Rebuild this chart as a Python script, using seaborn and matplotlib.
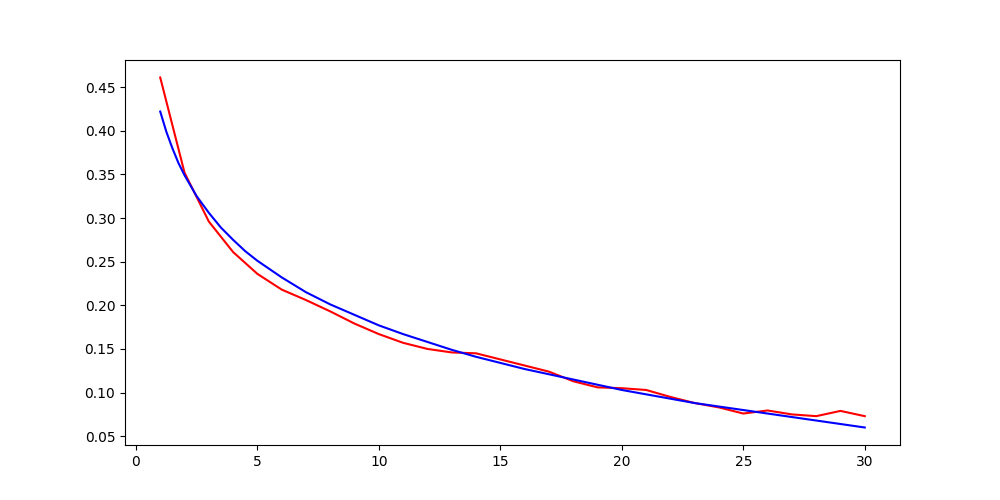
import matplotlib
matplotlib.use("Agg")
import matplotlib.pyplot as plt
import seaborn as sns
import pandas as pd

x_red = list(range(1, 31))
y_red = [0.461, 0.352, 0.296, 0.261, 0.236, 0.218, 0.206, 0.193, 0.179, 0.167,
         0.157, 0.150, 0.146, 0.145, 0.138, 0.131, 0.124, 0.113, 0.106, 0.105,
         0.103, 0.095, 0.088, 0.083, 0.076, 0.0795, 0.075, 0.073, 0.079, 0.073]

x_blue = [1, 1.25, 1.5, 1.75, 2, 2.5, 3, 3.5, 4, 4.5, 5, 6, 7, 8, 9, 10, 11, 12, 13, 14, 15,
          16, 17, 18, 19, 20, 21, 22, 23, 24, 25, 26, 27, 28, 29, 30]
y_blue = [0.422, 0.399, 0.380, 0.363, 0.349, 0.325, 0.306, 0.289, 0.275, 0.262, 0.251,
          0.232, 0.215, 0.201, 0.189, 0.177, 0.167, 0.158, 0.149, 0.141, 0.134,
          0.127, 0.121, 0.115, 0.109, 0.103, 0.098, 0.093, 0.088, 0.084, 0.080,
          0.076, 0.072, 0.068, 0.064, 0.060]

red_df = pd.DataFrame({"x": x_red, "y": y_red})
blue_df = pd.DataFrame({"x": x_blue, "y": y_blue})

fig, ax = plt.subplots(figsize=(10, 5), dpi=100)
sns.lineplot(data=red_df, x="x", y="y", color="red", ax=ax, linewidth=1.5)
sns.lineplot(data=blue_df, x="x", y="y", color="blue", ax=ax, linewidth=1.5)
ax.set_xlabel("")
ax.set_ylabel("")
ax.set_yticks([0.05, 0.10, 0.15, 0.20, 0.25, 0.30, 0.35, 0.40, 0.45])
fig.savefig("out.png", dpi=100)
